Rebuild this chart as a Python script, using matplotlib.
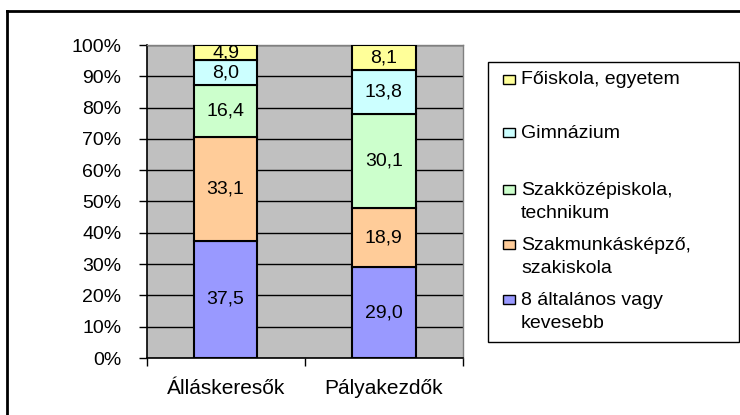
import matplotlib
matplotlib.use("Agg")
import matplotlib.pyplot as plt
from matplotlib.patches import Rectangle
from matplotlib.lines import Line2D
import numpy as np

plt.rcParams['font.family'] = ['Liberation Sans', 'DejaVu Sans']

categories = ["Álláskeresők", "Pályakezdők"]
series_names = ["8 általános vagy\nkevesebb", "Szakmunkásképző,\nszakiskola",
                "Szakközépiskola,\ntechnikum", "Gimnázium", "Főiskola, egyetem"]
vals_allas = [37.5, 33.1, 16.4, 8.0, 4.9]
vals_palya = [29.0, 18.9, 30.1, 13.8, 8.1]
colors = ["#9999FF", "#FFCC99", "#CCFFCC", "#CCFFFF", "#FFFF99"]
ytick_labels = ["0%", "10%", "20%", "30%", "40%", "50%", "60%", "70%", "80%", "90%", "100%"]

W, H = 740, 415
fig = plt.figure(figsize=(W / 100, H / 100), dpi=100)

def fx(px):
    return px / W

def fy(py):
    return 1 - py / H

ax = fig.add_axes([fx(146.5), fy(358), fx(463) - fx(146.5), fy(45) - fy(358)])
ax.set_facecolor("#C0C0C0")

data = np.array([vals_allas, vals_palya])
pct = data / data.sum(axis=1, keepdims=True) * 100
x = np.arange(len(categories))
bottom = np.zeros(len(categories))
fs = 14
for i in range(len(series_names)):
    bars = ax.bar(x, pct[:, i], bottom=bottom, width=0.40, color=colors[i],
                  edgecolor="black", linewidth=1.5, zorder=3)
    for j, b in enumerate(bars):
        ax.text(b.get_x() + b.get_width() / 2, bottom[j] + pct[j, i] / 2,
                f"{data[j, i]:.1f}".replace(".", ","), ha="center", va="center",
                fontsize=fs, zorder=4)
    bottom += pct[:, i]

ax.set_xlim(-0.5, 1.5)
ax.set_ylim(0, 100)
ax.set_yticks(np.arange(0, 101, 10))
ax.set_yticklabels(ytick_labels, fontsize=fs)
ax.yaxis.grid(True, color="black", linewidth=1.0, zorder=1)
ax.set_axisbelow(True)
ax.tick_params(axis="y", direction="out", length=6, width=1, pad=12)
ax.set_xticks(x)
ax.set_xticklabels(categories, fontsize=fs + 1)
ax.set_xticks([-0.5, 0.5, 1.5], minor=True)
ax.tick_params(axis="x", which="major", length=0, pad=15)
ax.tick_params(axis="x", which="minor", direction="out", length=6, width=1)
for s in ["left", "bottom"]:
    ax.spines[s].set_color("black")
    ax.spines[s].set_linewidth(1.2)
for s in ["top", "right"]:
    ax.spines[s].set_color("#808080")
    ax.spines[s].set_linewidth(1.0)

# Legend (manual, Excel-like spacing)
fig.patches.append(Rectangle((fx(488), fy(342)), fx(739) - fx(488), fy(62) - fy(342),
                             transform=fig.transFigure, facecolor="white",
                             edgecolor="black", linewidth=1.0))
leg_order = [4, 3, 2, 1, 0]
leg_y = [80, 133, 202, 257, 312]
for k, idx in enumerate(leg_order):
    lines = series_names[idx].split("\n")
    top_line_y = leg_y[k] - (len(lines) - 1) * 13
    fig.patches.append(Rectangle((fx(503), fy(top_line_y + 4.5)), fx(12), fy(0) - fy(9),
                                 transform=fig.transFigure, facecolor=colors[idx],
                                 edgecolor="black", linewidth=1.0))
    fig.text(fx(521), fy(leg_y[k]), series_names[idx], ha="left", va="center",
             fontsize=fs, linespacing=1.4)

# Outer frame (top and left edges visible)
fig.add_artist(Line2D([fx(6.5), 1.0], [fy(11.5), fy(11.5)], color="black", linewidth=2.0,
                      transform=fig.transFigure))
fig.add_artist(Line2D([fx(6.5), fx(6.5)], [fy(11.5), 0.0], color="black", linewidth=2.0,
                      transform=fig.transFigure))

fig.savefig("out.png", dpi=100)
